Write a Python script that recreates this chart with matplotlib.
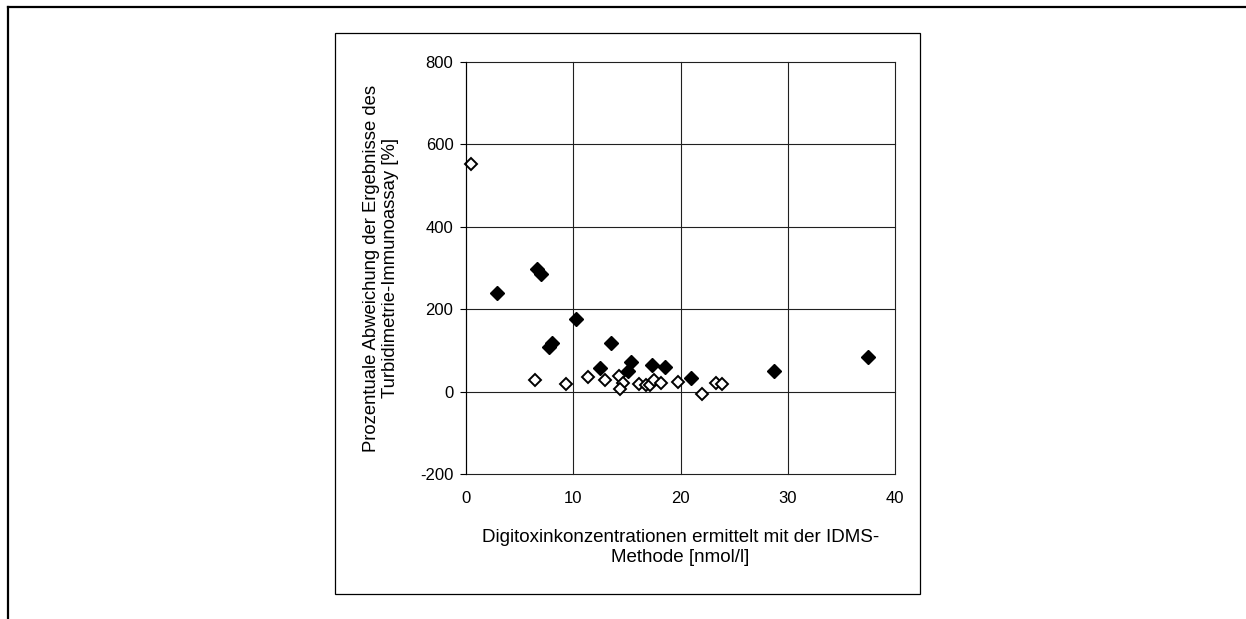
import matplotlib
matplotlib.use("Agg")
from matplotlib import pyplot
from matplotlib.patches import Rectangle
from matplotlib.lines import Line2D

pyplot.rcParams["font.family"] = ["Liberation Sans", "DejaVu Sans"]
pyplot.rcParams["axes.unicode_minus"] = False

# offene Rauten
open_x = [0.5, 6.4, 9.3, 11.4, 13.0, 14.3, 14.6, 14.4, 16.1, 16.8, 17.2, 17.5, 18.2, 19.8, 22.0, 23.3, 23.9]
open_y = [553, 29, 19, 36, 27, 39, 22, 7, 19, 15, 17, 27, 22, 24, -5, 22, 19]

# gefuellte Rauten
filled_x = [2.9, 6.6, 7.0, 7.7, 8.0, 10.3, 12.5, 13.5, 15.1, 15.4, 17.3, 18.6, 21.0, 28.7, 37.5]
filled_y = [240, 298, 286, 109, 119, 175, 58, 119, 49, 73, 65, 59, 32, 51, 83]

x_ticks = [0, 10, 20, 30, 40]
y_ticks = [-200, 0, 200, 400, 600, 800]

fig = pyplot.figure(figsize=(12.46, 6.19), dpi=100)

# Rahmen
fig.add_artist(Line2D([8 / 1246, 1.0], [1 - 7 / 619, 1 - 7 / 619], color="black", lw=1.6, transform=fig.transFigure))
fig.add_artist(Line2D([8 / 1246, 8 / 1246], [0.0, 1 - 7 / 619], color="black", lw=1.6, transform=fig.transFigure))
fig.add_artist(Rectangle((335 / 1246, 1 - 594 / 619), 585 / 1246, 561 / 619, fill=False,
                         edgecolor="black", lw=0.9, transform=fig.transFigure))

ax = fig.add_axes([466 / 1246, 1 - 474 / 619, 429 / 1246, 412 / 619])
ax.set_xlim(0, 40)
ax.set_ylim(-200, 800)
ax.set_xticks(x_ticks)
ax.set_yticks(y_ticks)
ax.grid(True, color="#202020", lw=0.8)
ax.set_axisbelow(True)
for gl in ax.get_xgridlines() + ax.get_ygridlines():
    gl.set_clip_on(False)
for s in ["top", "right", "bottom"]:
    ax.spines[s].set_visible(False)
ax.spines["left"].set_linewidth(0.8)
ax.tick_params(axis="x", length=0, labelsize=12, pad=12)
ax.tick_params(axis="y", length=4, width=0.8, direction="out", labelsize=12, pad=5)

ax.plot(open_x, open_y, linestyle="none", marker="D", markersize=6.5, markerfacecolor="white",
        markeredgecolor="black", markeredgewidth=1.4, clip_on=False)
ax.plot(filled_x, filled_y, linestyle="none", marker="D", markersize=7.5, color="black", clip_on=False)

ax.set_xlabel("Digitoxinkonzentrationen ermittelt mit der IDMS-\nMethode [nmol/l]", fontsize=13.5, labelpad=17)
ax.set_ylabel("Prozentuale Abweichung der Ergebnisse des\nTurbidimetrie-Immunoassay [%]", fontsize=13.3, labelpad=15)

fig.savefig("out.png", dpi=100)
